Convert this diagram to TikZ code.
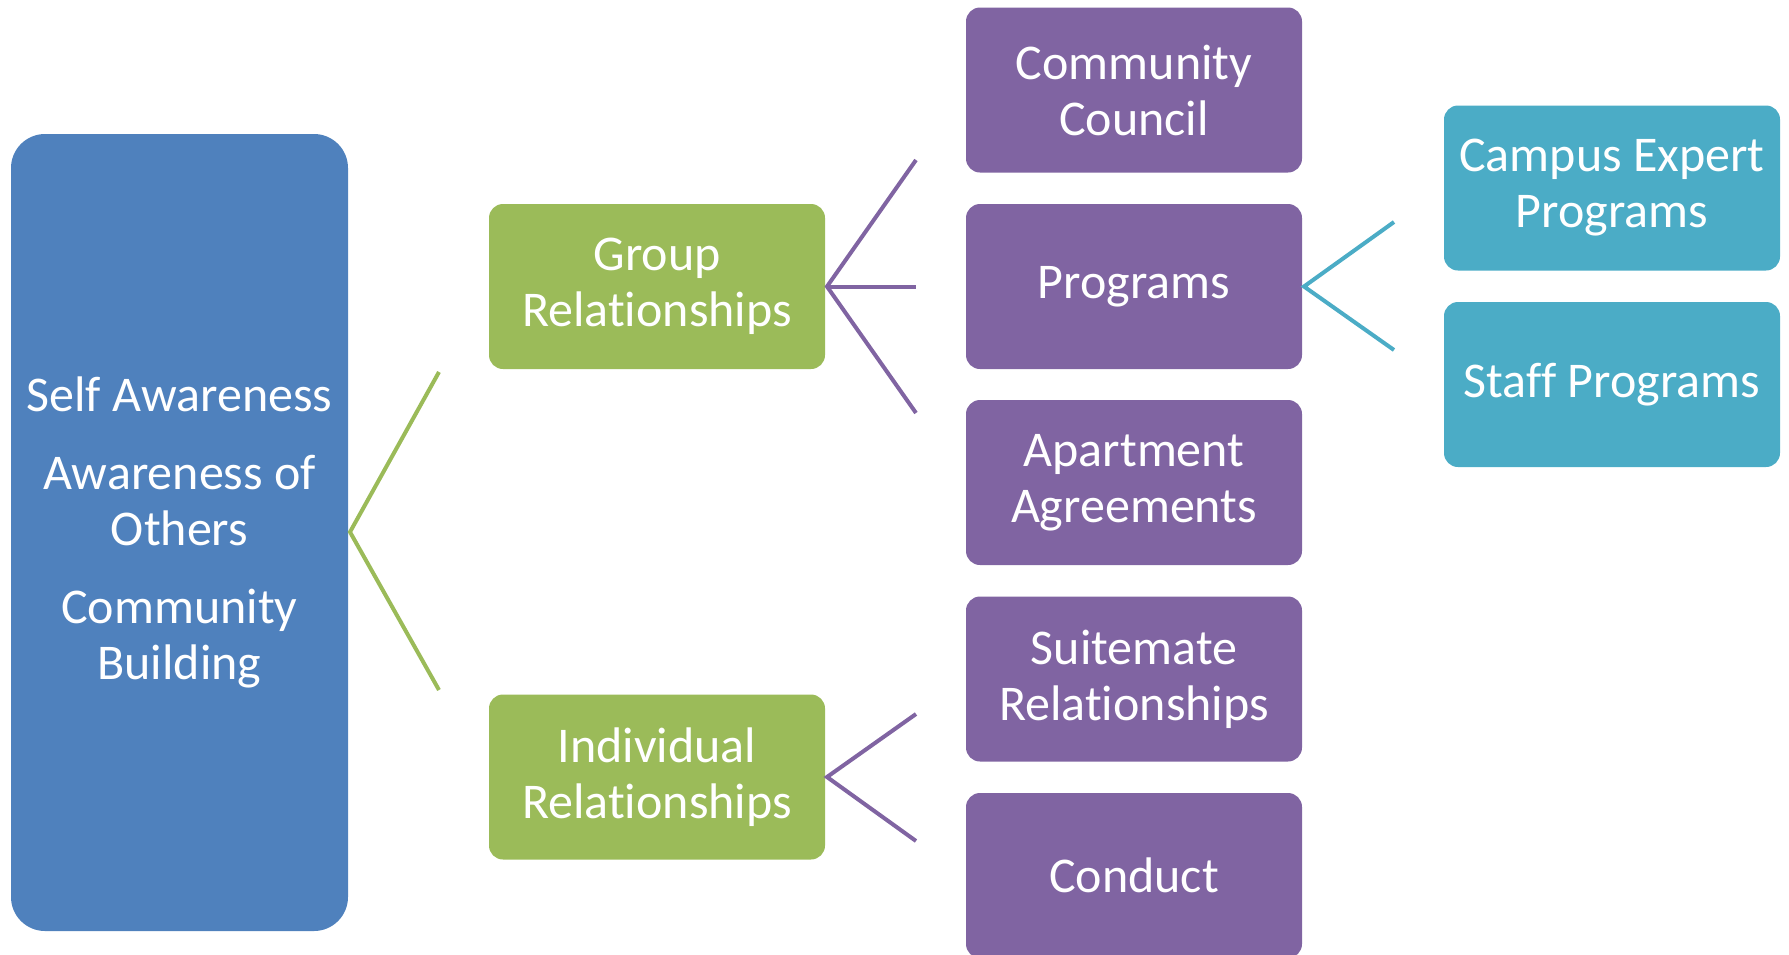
\documentclass[tikz,border=0pt]{standalone}
\usepackage{fontspec}
\setmainfont{Carlito}[Ligatures=NoCommon]
\definecolor{cblue}{HTML}{4F81BD}
\definecolor{cgreen}{HTML}{9BBB59}
\definecolor{cpurple}{HTML}{8064A2}
\definecolor{cteal}{HTML}{4BACC6}
\begin{document}
\begin{tikzpicture}[x=1pt,y=-1pt]
\tikzset{
  box/.style={rounded corners=14pt, text=white, align=center, inner sep=0pt,
    font=\fontsize{50}{56}\selectfont, minimum width=336pt, minimum height=165pt},
  conn/.style={line width=4pt}
}
\useasboundingbox (0,0) rectangle (1789,954);
\clip (0,0) rectangle (1789,954);
% root
\node[box, fill=cblue, rounded corners=34pt, minimum width=337pt, minimum height=797pt] (root) at (179.5,532.5)
  {Self Awareness\\[22pt]Awareness of\\Others\\[22pt]Community\\Building};
% level 2
\node[box, fill=cgreen] (group) at (657,286.5) {Group\\Relationships};
\node[box, fill=cgreen] (indiv) at (657,777) {Individual\\Relationships};
% level 3
\node[box, fill=cpurple] (council) at (1134,90) {Community\\Council};
\node[box, fill=cpurple] (programs) at (1134,286.5) {Programs};
\node[box, fill=cpurple] (apt) at (1134,482.5) {Apartment\\Agreements};
\node[box, fill=cpurple] (suite) at (1134,679) {Suitemate\\Relationships};
\node[box, fill=cpurple] (conduct) at (1134,875.5) {Conduct};
% level 4
\node[box, fill=cteal] (campus) at (1612,188) {Campus Expert\\Programs};
\node[box, fill=cteal] (staff) at (1612,384.5) {Staff Programs};
% connector points
\coordinate (rv) at (350,532);
\coordinate (r1) at (439,372);
\coordinate (r2) at (439,690);
\coordinate (gv) at (827,286.5);
\coordinate (g1) at (916,160);
\coordinate (g2) at (916,286.5);
\coordinate (g3) at (916,413);
\coordinate (iv) at (827,777);
\coordinate (i1) at (916,714);
\coordinate (i2) at (916,841);
\coordinate (pv) at (1304,286.5);
\coordinate (p1) at (1394,222);
\coordinate (p2) at (1394,350);
% connectors
\draw[conn, cgreen] (r1) -- (rv) -- (r2);
\draw[conn, cpurple] (g1) -- (gv) -- (g3);
\draw[conn, cpurple] (gv) -- (g2);
\draw[conn, cpurple] (i1) -- (iv) -- (i2);
\draw[conn, cteal] (p1) -- (pv) -- (p2);
\end{tikzpicture}
\end{document}
